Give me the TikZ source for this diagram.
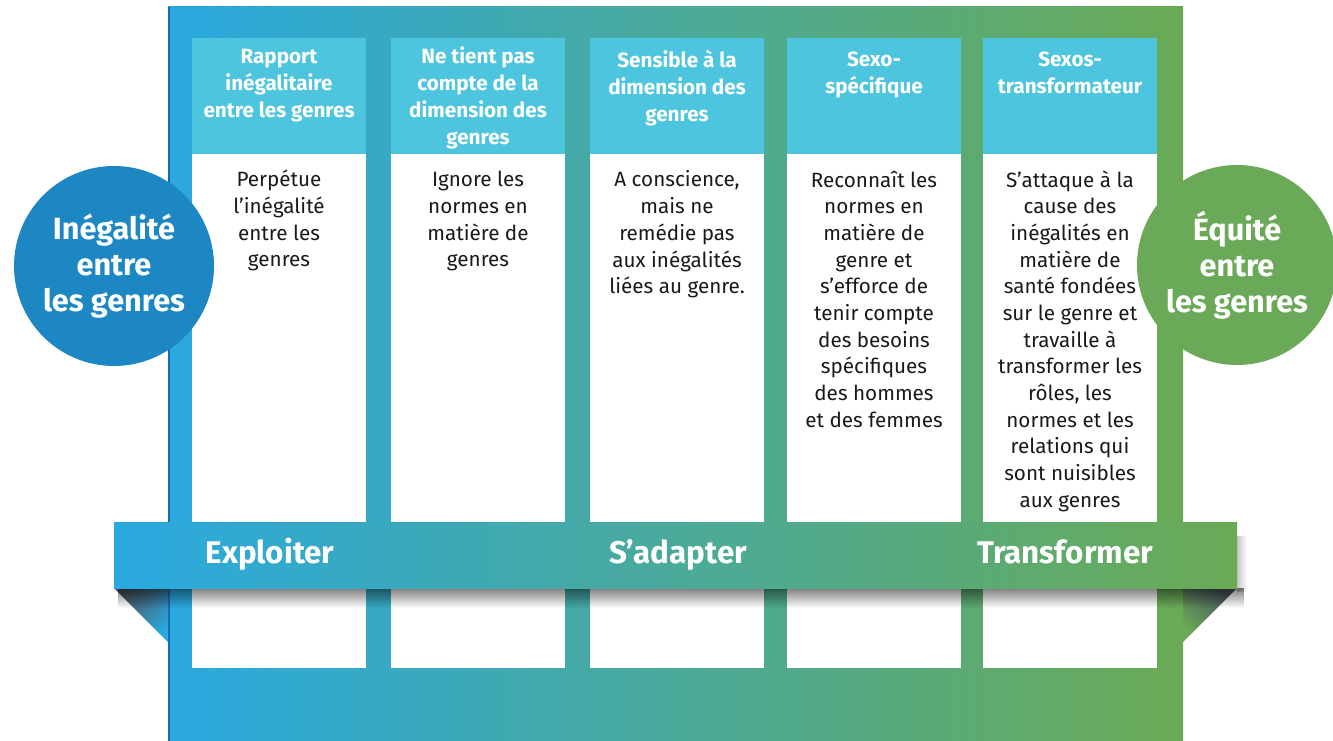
\documentclass[tikz,border=0pt]{standalone}
\usepackage{fontspec}
\setmainfont{Fira Sans}
\usetikzlibrary{positioning,fadings}

\definecolor{bgblue}{HTML}{2AA9E0}
\definecolor{bgteal}{HTML}{52A9A6}
\definecolor{bggreen}{HTML}{6AAA55}
\definecolor{headcyan}{HTML}{4EC5DF}
\definecolor{edgeblue}{HTML}{1667B7}
\definecolor{circblue}{HTML}{1C87C2}
\definecolor{circgreen}{HTML}{6AA957}
\definecolor{foldgray}{HTML}{4A525E}
\definecolor{bodyink}{HTML}{1A1A1A}

\begin{document}
\begin{tikzpicture}[x=0.75pt, y=-0.75pt, line join=miter,
    every node/.style={inner sep=0pt, outer sep=0pt},
    headbox/.style={fill=headcyan, minimum width=130.5pt, minimum height=87pt, anchor=north west},
    bodybox/.style={fill=white, minimum width=130.5pt, minimum height=385.5pt},
    headtext/.style={anchor=north, align=center, text=white, font=\fontsize{15.5}{20.25}\selectfont\bfseries},
    bodytext/.style={anchor=north, align=center, text=bodyink, font=\fontsize{15.5}{20}\selectfont},
    disc/.style={circle, minimum size=150pt, align=center, text=white, font=\fontsize{23}{27}\selectfont\bfseries},
    banner/.style={minimum width=842.25pt, minimum height=49.5pt, left color=bgblue, right color=bggreen},
    bannertext/.style={anchor=base, text=white, font=\fontsize{23.5}{26}\selectfont\bfseries}]

    \useasboundingbox (0,0) rectangle (1333,741);

    % panel behind the columns
    \shade[left color=bgblue, middle color=bgteal, right color=bggreen] (168,7) rectangle (1183,741);
    \fill[edgeblue] (168,7) rectangle (170,741);

    % columns
    \node[headbox] (h1) at (192,38) {};
    \node[bodybox, below=0pt of h1] (b1) {};
    \node[headbox] (h2) at (391,38) {};
    \node[bodybox, below=0pt of h2] (b2) {};
    \node[headbox] (h3) at (590,38) {};
    \node[bodybox, below=0pt of h3] (b3) {};
    \node[headbox] (h4) at (787,38) {};
    \node[bodybox, below=0pt of h4] (b4) {};
    \node[headbox] (h5) at (983,38) {};
    \node[bodybox, below=0pt of h5] (b5) {};

    \node[headtext, below=5.25pt of h1.north] (h1t) {\strut Rapport\\inégalitaire\\entre les genres};
    \node[headtext, below=5.25pt of h2.north] (h2t) {\strut Ne tient pas\\compte de la\\dimension des\\genres};
    \node[headtext, below=8pt of h3.north] (h3t) {\strut Sensible à la\\dimension des\\genres};
    \node[headtext, below=7.5pt of h4.north] (h4t) {\strut Sexo-\\spécifique};
    \node[headtext, below=7.5pt of h5.north] (h5t) {\strut Sexos-\\transformateur};

    \node[bodytext, below=10.75pt of b1.north] (b1t) {\strut Perpétue\\l’inégalité\\entre les\\genres};
    \node[bodytext, below=10.75pt of b2.north] (b2t) {\strut Ignore les\\normes en\\matière de\\genres};
    \node[bodytext, below=10.75pt of b3.north] (b3t) {\strut A conscience,\\mais ne\\remédie pas\\aux inégalités\\liées au genre.};
    \node[bodytext, below=10.75pt of b4.north] (b4t) {\strut Reconnaît les\\normes en\\matière de\\genre et\\s’efforce de\\tenir compte\\des besoins\\spécifiques\\des hommes\\et des femmes};
    \node[bodytext, below=10.75pt of b5.north] (b5t) {\strut S’attaque à la\\cause des\\inégalités en\\matière de\\santé fondées\\sur le genre et\\travaille à\\transformer les\\rôles, les\\normes et les\\relations qui\\sont nuisibles\\aux genres};

    % folded ends of the ribbon
    \shade[top color=foldgray, bottom color=bgblue, shading angle=45] (114,588) -- (168,588) -- (168,642) -- cycle;
    \shade[top color=foldgray, bottom color=bggreen, shading angle=-45] (1183,588) -- (1237,588) -- (1183,642) -- cycle;

    % soft shadow under the ribbon
    \fill[black, opacity=.5, path fading=south] (118,588) rectangle (1245,608);
    \fill[black, opacity=.22, path fading=east] (1237,536) rectangle (1247,592);

    % ribbon
    \node[banner] (band) at (675.5,555) {};
    \node[bannertext] (exploit) at (270,563) {Exploiter};
    \node[bannertext] (adapt) at (678,563) {S’adapter};
    \node[bannertext] (transform) at (1065,563) {Transformer};

    % end points
    \node[disc, fill=circblue] (inequality) at (114,266) {Inégalité\\entre\\les genres};
    \node[disc, fill=circgreen] (equity) at (1237,265) {Équité\\entre\\les genres};
\end{tikzpicture}
\end{document}
